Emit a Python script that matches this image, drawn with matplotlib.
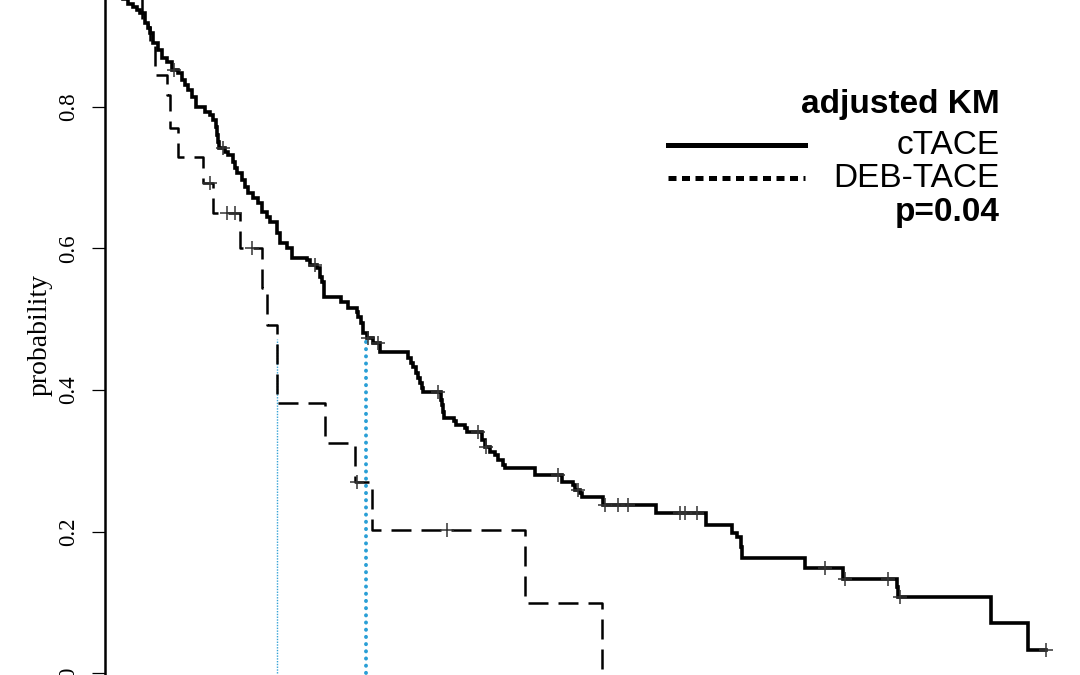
import numpy as np
import matplotlib
matplotlib.use("Agg")
import matplotlib.pyplot as plt

# cTACE adjusted KM: event times (months) and survival after each step
ctace_time = [0.0, 0.3, 0.6, 0.9, 1.2, 1.53, 1.87, 2.13, 2.33, 2.67, 2.87, 3.00, 3.20,
              3.53, 3.80, 4.13, 4.47, 4.87, 5.13, 5.33, 5.53, 5.80, 6.07, 6.67, 7.00,
              7.20, 7.40, 7.47, 7.53, 7.60, 8.00, 8.20, 8.53, 8.67, 8.80, 9.13, 9.33,
              9.53, 9.87, 10.20, 10.47, 10.80, 11.00, 11.47, 11.67, 12.13, 12.47, 13.47,
              13.67, 14.13, 14.33, 14.47, 14.60, 15.73, 16.20, 16.80, 16.87, 17.07,
              17.20, 17.47, 17.87, 18.33, 20.20, 20.40, 20.53, 20.73, 20.87, 21.00,
              21.13, 21.20, 22.40, 22.47, 22.53, 22.60, 23.27, 23.40, 24.00, 24.13,
              25.13, 25.33, 25.67, 26.00, 26.20, 26.53, 26.67, 28.67, 30.47, 31.20,
              31.33, 31.67, 31.80, 33.20, 36.73, 40.07, 41.80, 42.13, 42.40, 42.47,
              46.67, 49.20, 52.80, 52.87, 59.07, 61.53, 62.73]
ctace_surv = [1.0, 0.99, 0.98, 0.97, 0.952, 0.9456, 0.9413, 0.9371, 0.9329, 0.9187,
              0.9117, 0.9046, 0.8905, 0.8806, 0.8693, 0.8636, 0.8523, 0.8481, 0.8382,
              0.8311, 0.8240, 0.8141, 0.8000, 0.7929, 0.7887, 0.7816, 0.7717, 0.7604,
              0.7505, 0.7420, 0.7364, 0.7322, 0.7223, 0.7138, 0.7067, 0.6968, 0.6869,
              0.6784, 0.6714, 0.6643, 0.6516, 0.6445, 0.6375, 0.6219, 0.6078, 0.6007,
              0.5866, 0.5837, 0.5767, 0.5724, 0.5597, 0.5527, 0.5314, 0.5244, 0.5159,
              0.5102, 0.5032, 0.4947, 0.4806, 0.4735, 0.4664, 0.4537, 0.4452, 0.4382,
              0.4325, 0.4240, 0.4170, 0.4099, 0.4028, 0.3972, 0.3859, 0.3788, 0.3689,
              0.3604, 0.3562, 0.3505, 0.3463, 0.3406, 0.3293, 0.3194, 0.3124, 0.3081,
              0.3011, 0.2940, 0.2898, 0.2799, 0.2700, 0.2657, 0.2587, 0.2544, 0.2488,
              0.2375, 0.2261, 0.2092, 0.1979, 0.1922, 0.1781, 0.1625, 0.1484, 0.1329,
              0.1216, 0.1074, 0.0707, 0.0325, 0.0325]
ctace_censor = [4.6, 7.87, 14.0, 17.5, 18.2, 22.2, 24.87, 25.4, 30.2, 31.5, 33.3, 34.2,
                34.87, 38.33, 38.67, 39.47, 48.0, 49.33, 52.2, 53.0, 62.73]

# DEB-TACE adjusted KM
deb_time = [0.0, 2.47, 2.87, 3.00, 3.33, 4.13, 4.33, 4.87, 6.53, 7.20, 9.00, 10.47,
            10.80, 11.47, 14.67, 16.67, 17.80, 28.00, 33.13]
deb_surv = [1.0, 0.9230, 0.9131, 0.8876, 0.8452, 0.8170, 0.7703, 0.7293, 0.6926,
            0.6502, 0.6007, 0.5442, 0.4919, 0.3816, 0.3251, 0.2700, 0.2021, 0.0989, 0.0]
deb_censor = [7.0, 8.13, 8.67, 9.8, 16.8, 22.8]

# median lines
median_deb = 11.47
median_ctace = 17.4
median_top = 0.472

legend_labels = ["cTACE", "DEB-TACE"]
legend_title = "adjusted KM"
p_text = "p=0.04"


def step_value(times, surv, t):
    idx = np.searchsorted(times, t, side="right") - 1
    return np.asarray(surv)[idx]


fig = plt.figure(figsize=(10.8, 6.75), dpi=100)
ax = fig.add_axes([105 / 1080, 0, 1 - 105 / 1080, 1])

ax.step(ctace_time, ctace_surv, where="post", color="black", lw=2.6,
        solid_joinstyle="miter", zorder=3)
ax.step(deb_time, deb_surv, where="post", color="black", lw=1.8,
        linestyle=(0, (8, 4)), zorder=3)

ax.plot(ctace_censor, step_value(ctace_time, ctace_surv, ctace_censor), "+",
        color="#333333", ms=10, mew=1.1, zorder=4)
ax.plot(deb_censor, step_value(deb_time, deb_surv, deb_censor), "+",
        color="#333333", ms=10, mew=1.1, zorder=4)

ax.plot([median_deb, median_deb], [0, median_top], color="#35a3d6", lw=1.0,
        linestyle=(0, (1, 1)), zorder=2)
ax.plot([median_ctace, median_ctace], [0, median_top], color="#2a9fd6", lw=2.8,
        linestyle=(0, (0.05, 1.8)), dash_capstyle="round", zorder=2)

ax.set_xlim(0, 65)
ax.set_ylim(-0.0028, 0.9512)

for side in ["top", "right", "bottom"]:
    ax.spines[side].set_visible(False)
ax.spines["left"].set_linewidth(1.8)
ax.set_xticks([])
ax.set_yticks([0, 0.2, 0.4, 0.6, 0.8])
ax.set_yticklabels(["0", "0.2", "0.4", "0.6", "0.8"], rotation=90,
                   va="center", family="Liberation Serif", fontsize=16.5)
ax.tick_params(axis="y", length=9.5, width=0.9, pad=9)
ax.set_ylabel("probability", family="Liberation Serif", fontsize=20)
ax.yaxis.set_label_coords(-0.054, 0.504)

# legend block
fig.add_artist(plt.Line2D([668 / 1080, 805 / 1080], [1 - 145 / 675] * 2,
                          color="black", lw=3.6))
fig.add_artist(plt.Line2D([668 / 1080, 805 / 1080], [1 - 178 / 675] * 2,
                          color="black", lw=3.6, linestyle=(0, (1.6, 1.1))))
tx = 1000 / 1080
fig.text(tx, 1 - 105 / 675, legend_title, ha="right", va="center",
         family="Liberation Sans", fontsize=24, fontweight="bold")
fig.text(tx, 1 - 145 / 675, legend_labels[0], ha="right", va="center",
         family="Liberation Sans", fontsize=24)
fig.text(tx, 1 - 178 / 675, legend_labels[1], ha="right", va="center",
         family="Liberation Sans", fontsize=24)
fig.text(tx, 1 - 212 / 675, p_text, ha="right", va="center",
         family="Liberation Sans", fontsize=24, fontweight="bold")

fig.savefig("out.png", dpi=100)
